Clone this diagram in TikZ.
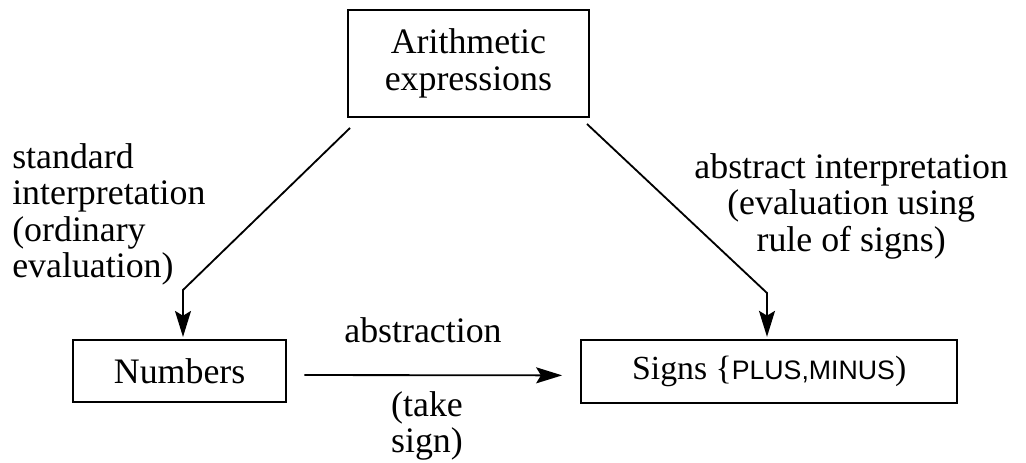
\documentclass[tikz,border=0pt]{standalone}
\usepackage{fontspec}
\setmainfont{Liberation Serif}
\newfontfamily\caps{Liberation Sans}
\usetikzlibrary{positioning,arrows.meta,calc}

\begin{document}
\begin{tikzpicture}[
  font=\fontsize{25.5}{26}\selectfont,
  >={Stealth[length=6.5mm,width=4mm,inset=1.2mm]},
  every node/.style={inner sep=0pt},
  domainbox/.style={
    rectangle, draw=black, line width=1.5pt,
    align=center,
  },
  arr/.style={->, draw=black, line width=1.3pt},
  lbl/.style={font=\fontsize{25.5}{26}\selectfont},
]
\useasboundingbox (0,0) rectangle (25.65,11.575);

%---------- domains ----------
\node[domainbox, minimum width=6.03cm, minimum height=2.675cm] (expr) at (11.71, 9.99)
  {Arithmetic\\expressions};
\node[domainbox, minimum width=5.33cm, minimum height=1.55cm] (num) at (4.49, 2.3)
  {Numbers};
\node[domainbox, minimum width=9.4cm, minimum height=1.575cm] (sgn) at (19.23, 2.29)
  {\fontsize{24}{24}\selectfont Signs \{{\caps\fontsize{19}{20}\selectfont PLUS,MINUS})};

%---------- bends of the two interpretations ----------
\coordinate (startL) at (8.75, 8.375);
\coordinate (bendL)  at (4.575, 4.325);
\coordinate (startR) at (14.675, 8.475);
\coordinate (bendR)  at (19.175, 4.25);

%---------- arrows ----------
\draw[arr, shorten >=0.05cm] (startL) -- (bendL) -- (bendL |- num.north);
\draw[arr, shorten >=0.05cm] (startR) -- (bendR) -- (bendR |- sgn.north);
\draw[arr, shorten <=0.425cm, shorten >=0.45cm]
  ([yshift=-1mm]num.east) -- ([yshift=-1mm]sgn.west);

%---------- labels ----------
\node[lbl, anchor=north west, align=left] (stdlbl) at (0.3, 8.0)
  {standard\\interpretation\\(ordinary\\evaluation)};
\node[lbl, anchor=north, align=center] (abslbl) at (21.28, 7.75)
  {abstract interpretation\\(evaluation using\\rule of signs)};
\node[lbl, anchor=base] (abst) at (10.575, 3.0) {abstraction};
\node[lbl, anchor=north, align=center] (take) at (10.675, 1.8)
  {(take\\sign)};

\end{tikzpicture}
\end{document}
